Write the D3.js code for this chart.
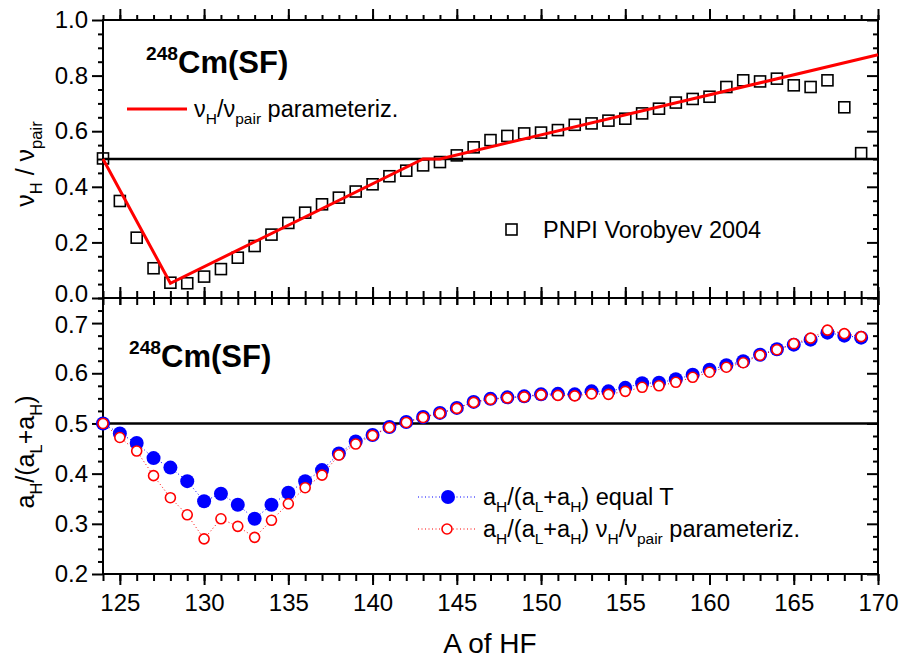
<!DOCTYPE html>
<html>
<head>
<meta charset="utf-8">
<script src="https://cdn.jsdelivr.net/npm/d3@7"></script>
<style>
  body { margin: 0; background: #fff; }
  svg text { font-family: "Liberation Sans", Arial, sans-serif; }
</style>
</head>
<body>
<script>
'use strict';

// mass number of heavy fragment
const massA = [124,125,126,127,128,129,130,131,132,133,134,135,136,137,138,139,140,141,142,143,
               144,145,146,147,148,149,150,151,152,153,154,155,156,157,158,159,160,161,162,163,
               164,165,166,167,168,169];

// PNPI Vorobyev 2004, nuH/nupair
const nuRatio = [0.502,0.349,0.217,0.107,0.055,0.053,0.077,0.104,0.145,0.187,0.228,0.270,0.307,0.337,
                 0.361,0.383,0.409,0.438,0.458,0.477,0.489,0.513,0.542,0.568,0.583,0.592,0.595,0.604,
                 0.623,0.628,0.638,0.645,0.664,0.681,0.703,0.716,0.724,0.759,0.783,0.779,0.789,0.765,
                 0.759,0.783,0.686,0.521];

// parameterization (red line)
const paramA  = [124, 128, 143, 144, 170];
const paramNu = [0.50, 0.053, 0.50, 0.50, 0.875];

// aH/(aL+aH) equal T
const aEqualT = [0.500,0.480,0.461,0.431,0.412,0.385,0.345,0.360,0.338,0.310,0.338,0.362,0.385,0.407,
                 0.440,0.464,0.477,0.493,0.503,0.513,0.521,0.531,0.543,0.549,0.552,0.554,0.558,0.559,
                 0.558,0.564,0.564,0.571,0.580,0.581,0.588,0.597,0.607,0.616,0.624,0.637,0.648,0.657,
                 0.667,0.681,0.675,0.671];

// aH/(aL+aH) nuH/nupair parameteriz.
const aParam  = [0.500,0.472,0.445,0.396,0.352,0.318,0.270,0.310,0.295,0.273,0.307,0.340,0.372,0.397,
                 0.437,0.459,0.476,0.492,0.502,0.512,0.520,0.530,0.542,0.548,0.551,0.553,0.557,0.556,
                 0.555,0.559,0.558,0.564,0.572,0.575,0.582,0.592,0.602,0.612,0.621,0.636,0.647,0.659,
                 0.670,0.686,0.679,0.673];

// ticks
const xMajor = [125,130,135,140,145,150,155,160,165,170];
const xMinor = massA.concat([170]);
const yTopMajor = [0.0,0.2,0.4,0.6,0.8,1.0];
const yTopMinor = [0.05,0.1,0.15,0.25,0.3,0.35,0.45,0.5,0.55,0.65,0.7,0.75,0.85,0.9,0.95];
const yBotMajor = [0.2,0.3,0.4,0.5,0.6,0.7];
const yBotMinor = [0.225,0.25,0.275,0.325,0.35,0.375,0.425,0.45,0.475,0.525,0.55,0.575,0.625,0.65,0.675,0.725,0.75];

const W = 904, H = 663;
const left = 103, right = 878, topY = 20, midY = 298, botY = 574;

const svg = d3.select("body").append("svg")
    .attr("width", W).attr("height", H);

const x = d3.scaleLinear().domain([124, 170]).range([left, right]);
const yTop = d3.scaleLinear().domain([0, 1]).range([midY, topY]);
const yBot = d3.scaleLinear().domain([0.2, 0.75]).range([botY, midY]);

// draw one set of ticks
const ticks = (axis, values, size, tx, ty, labels) => {
    const g = svg.append("g")
        .attr("transform", "translate(" + tx + "," + ty + ")")
        .call(axis.tickValues(values).tickSize(size)
              .tickFormat(labels ? labels : "").tickPadding(labels ? 4 : 0));
    g.select(".domain").remove();
    g.selectAll("line").attr("stroke", "#000").attr("stroke-width", 2);
    g.selectAll("text").attr("fill", "#000").style("font-size", "24px");
    return g;
};

const fmt = d3.format(".1f");

// top panel axes
const yTopAx = ticks(d3.axisLeft(yTop), yTopMajor, 11, left, 0, fmt);
// keep the 0.0 label clear of the 0.7 label below it
yTopAx.selectAll("text").filter(d => d === 0).attr("y", -4);
ticks(d3.axisLeft(yTop), yTopMinor, 5, left, 0);
ticks(d3.axisRight(yTop), yTopMajor, -11, right, 0);
ticks(d3.axisRight(yTop), yTopMinor, -5, right, 0);
ticks(d3.axisTop(x), xMajor, 11, 0, topY);
ticks(d3.axisTop(x), xMinor, 5, 0, topY);
ticks(d3.axisBottom(x), xMajor, -11, 0, midY);
ticks(d3.axisBottom(x), xMinor, -7, 0, midY);

// bottom panel axes
const yBotAx = ticks(d3.axisLeft(yBot), yBotMajor, 11, left, 0, fmt);
yBotAx.selectAll("text").filter(d => d === 0.7).attr("y", 2);
ticks(d3.axisLeft(yBot), yBotMinor, 5, left, 0);
ticks(d3.axisRight(yBot), yBotMajor, -11, right, 0);
ticks(d3.axisRight(yBot), yBotMinor, -5, right, 0);
ticks(d3.axisTop(x), xMajor, -7, 0, midY);
ticks(d3.axisTop(x), xMinor, -7, 0, midY);
const xAx = ticks(d3.axisBottom(x), xMajor, 11, 0, botY, d3.format("d"));
xAx.selectAll("text").attr("y", 20);
ticks(d3.axisBottom(x), xMinor, 7, 0, botY);

// frames
[[topY, midY], [midY, botY]].forEach(p => {
    svg.append("rect")
        .attr("x", left).attr("y", p[0])
        .attr("width", right - left).attr("height", p[1] - p[0])
        .attr("fill", "none").attr("stroke", "#000").attr("stroke-width", 2);
});

// reference lines at 0.5
svg.append("line").attr("x1", left).attr("x2", right)
    .attr("y1", yTop(0.5)).attr("y2", yTop(0.5))
    .attr("stroke", "#000").attr("stroke-width", 2.5);
svg.append("line").attr("x1", left).attr("x2", right)
    .attr("y1", yBot(0.5)).attr("y2", yBot(0.5))
    .attr("stroke", "#000").attr("stroke-width", 2.5);

// top panel: squares
svg.append("g").selectAll("rect")
    .data(massA)
    .enter().append("rect")
    .attr("x", (d, i) => x(d) - 5.5)
    .attr("y", (d, i) => yTop(nuRatio[i]) - 5.5)
    .attr("width", 11).attr("height", 11)
    .attr("fill", "none").attr("stroke", "#000").attr("stroke-width", 1.6);

// red parameterization line
const paramLine = d3.line().x(d => x(d)).y((d, i) => yTop(paramNu[i]));
svg.append("path")
    .attr("d", paramLine(paramA))
    .attr("fill", "none").attr("stroke", "#ff0000").attr("stroke-width", 3);

// bottom panel: blue filled circles
const lineEq = d3.line().x(d => x(d)).y((d, i) => yBot(aEqualT[i]));
const linePar = d3.line().x(d => x(d)).y((d, i) => yBot(aParam[i]));
svg.append("path").attr("d", lineEq(massA))
    .attr("fill", "none").attr("stroke", "#0000ff").attr("stroke-width", 1)
    .attr("stroke-dasharray", "1,2.5");
svg.append("g").selectAll("circle")
    .data(massA)
    .enter().append("circle")
    .attr("cx", d => x(d))
    .attr("cy", (d, i) => yBot(aEqualT[i]))
    .attr("r", 7)
    .attr("fill", "#0000ff");

svg.append("path").attr("d", linePar(massA))
    .attr("fill", "none").attr("stroke", "#ff0000").attr("stroke-width", 1)
    .attr("stroke-dasharray", "1,2.5");
svg.append("g").selectAll("circle")
    .data(massA)
    .enter().append("circle")
    .attr("cx", d => x(d))
    .attr("cy", (d, i) => yBot(aParam[i]))
    .attr("r", 5)
    .attr("fill", "#fff").attr("stroke", "#ff0000").attr("stroke-width", 1.6);

// text with sub/superscripts
const rich = (parts, tx, ty, size, opts) => {
    opts = opts || {};
    const t = svg.append("text")
        .attr("transform", "translate(" + tx + "," + ty + ")" + (opts.rotate ? " rotate(-90)" : ""))
        .attr("text-anchor", opts.anchor || "start")
        .style("font-size", size + "px")
        .style("font-weight", opts.bold ? "bold" : "normal")
        .attr("fill", "#000");
    let shift = 0;
    parts.forEach(p => {
        const s = typeof p === "string" ? {t: p} : p;
        let target = 0, fs = size;
        if (s.sub) { target = size * 0.3; fs = size * 0.66; }
        if (s.sup) { target = -size * 0.42; fs = size * 0.62; }
        t.append("tspan")
            .attr("dy", target - shift)
            .style("font-size", fs + "px")
            .text(s.t);
        shift = target;
    });
    return t;
};

// titles
rich([{t: "248", sup: true}, "Cm(SF)"], 146, 73, 31, {bold: true});
rich([{t: "248", sup: true}, "Cm(SF)"], 129, 367, 31, {bold: true});

// axis titles
rich(["ν", {t: "H", sub: true}, " / ν", {t: "pair", sub: true}], 34, 164, 25, {rotate: true, anchor: "middle"});
rich(["a", {t: "H", sub: true}, "/(a", {t: "L", sub: true}, "+a", {t: "H", sub: true}, ")"], 34, 452, 25, {rotate: true, anchor: "middle"});
rich(["A of HF"], 490, 653, 28, {anchor: "middle"});

// top legends
svg.append("line").attr("x1", 127).attr("x2", 187).attr("y1", 109).attr("y2", 109)
    .attr("stroke", "#ff0000").attr("stroke-width", 3);
rich(["ν", {t: "H", sub: true}, "/ν", {t: "pair", sub: true}, " parameteriz."], 194, 117, 23.5);

svg.append("rect").attr("x", 506).attr("y", 224).attr("width", 11).attr("height", 11)
    .attr("fill", "none").attr("stroke", "#000").attr("stroke-width", 1.6);
rich(["PNPI Vorobyev 2004"], 543, 238, 23.5);

// bottom legend
svg.append("line").attr("x1", 418).attr("x2", 477).attr("y1", 497).attr("y2", 497)
    .attr("stroke", "#0000ff").attr("stroke-width", 1).attr("stroke-dasharray", "1,2.5");
svg.append("circle").attr("cx", 448).attr("cy", 497).attr("r", 7).attr("fill", "#0000ff");
rich(["a", {t: "H", sub: true}, "/(a", {t: "L", sub: true}, "+a", {t: "H", sub: true}, ") equal T"], 483, 505, 23.5);

svg.append("line").attr("x1", 418).attr("x2", 477).attr("y1", 529).attr("y2", 529)
    .attr("stroke", "#ff0000").attr("stroke-width", 1).attr("stroke-dasharray", "1,2.5");
svg.append("circle").attr("cx", 447).attr("cy", 529).attr("r", 5)
    .attr("fill", "#fff").attr("stroke", "#ff0000").attr("stroke-width", 1.6);
rich(["a", {t: "H", sub: true}, "/(a", {t: "L", sub: true}, "+a", {t: "H", sub: true}, ") ν",
      {t: "H", sub: true}, "/ν", {t: "pair", sub: true}, " parameteriz."], 483, 537, 23.5);
</script>
</body>
</html>
